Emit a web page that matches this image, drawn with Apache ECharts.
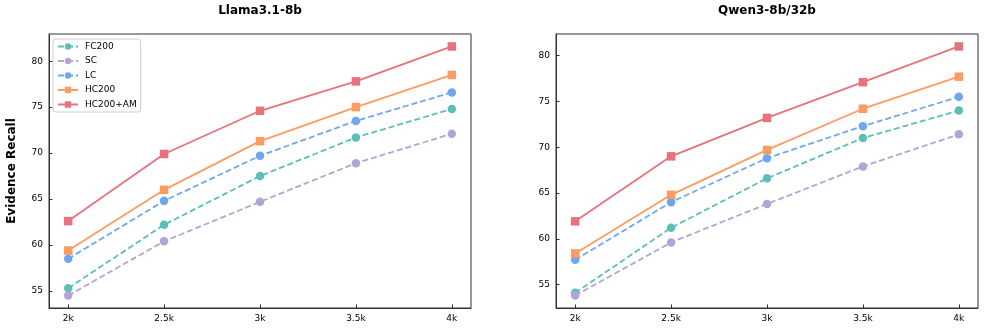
<!DOCTYPE html>
<html>
<head>
<meta charset="utf-8">
<script src="https://cdn.jsdelivr.net/npm/echarts@6/dist/echarts.min.js"></script>
<style>html,body{margin:0;padding:0;background:#fff}#c{width:987px;height:329px}</style>
</head>
<body>
<div id="c"></div>
<script>
// ---- data ----
const xValues = [2, 2.5, 3, 3.5, 4];
const xLabels = ['2k', '2.5k', '3k', '3.5k', '4k'];
const yTicks = [55, 60, 65, 70, 75, 80];
const seriesNames = ['FC200', 'SC', 'LC', 'HC200', 'HC200+AM'];
const panelTitles = ['Llama3.1-8b', 'Qwen3-8b/32b'];

// Llama3.1-8b
const llamaFC200 = [55.3, 62.2, 67.5, 71.7, 74.8];
const llamaSC    = [54.5, 60.4, 64.7, 68.9, 72.1];
const llamaLC    = [58.5, 64.8, 69.7, 73.5, 76.6];
const llamaHC200 = [59.4, 66.0, 71.3, 75.0, 78.5];
const llamaHCAM  = [62.6, 69.9, 74.6, 77.8, 81.6];

// Qwen3-8b/32b
const qwenFC200 = [54.1, 61.2, 66.6, 71.0, 74.0];
const qwenSC    = [53.8, 59.6, 63.8, 67.9, 71.4];
const qwenLC    = [57.7, 64.0, 68.8, 72.3, 75.5];
const qwenHC200 = [58.4, 64.8, 69.7, 74.2, 77.7];
const qwenHCAM  = [61.9, 69.0, 73.2, 77.1, 81.0];

const panels = [
  [llamaFC200, llamaSC, llamaLC, llamaHC200, llamaHCAM],
  [qwenFC200, qwenSC, qwenLC, qwenHC200, qwenHCAM]
];

// ---- styles ----
const colors = ['#5cbfb5', '#b3a4d6', '#6fa7ee', '#fd9b64', '#e7727d'];
const dashed = [true, true, true, false, false];
const symbols = ['circle', 'circle', 'circle', 'rect', 'rect'];
const FONT = 'DejaVu Sans';

const grids = [
  {left: 49, right: 516, top: 34, bottom: 21},
  {left: 556, right: 9, top: 34, bottom: 21}
];

function yRange(arrs) {
  let mn = Infinity, mx = -Infinity;
  arrs.forEach(a => a.forEach(v => { mn = Math.min(mn, v); mx = Math.max(mx, v); }));
  const pad = (mx - mn) * 0.05;
  return [mn - pad, mx + pad];
}

const xAxes = [], yAxes = [], series = [], titles = [];
panels.forEach((arrs, p) => {
  const [ymin, ymax] = yRange(arrs);
  xAxes.push({
    gridIndex: p, type: 'value', min: 1.9, max: 4.1,
    axisLine: {show: true, lineStyle: {color: '#333', width: 1}},
    axisTick: {show: true, inside: true, length: 3.5, customValues: xValues, lineStyle: {color: '#333'}},
    axisLabel: {customValues: xValues, color: '#000', fontFamily: FONT, fontSize: 9, margin: 6,
      formatter: v => xLabels[xValues.indexOf(+v)] || ''},
    splitLine: {show: false}
  });
  yAxes.push({
    gridIndex: p, type: 'value', min: ymin, max: ymax,
    name: p === 0 ? 'Evidence Recall' : '',
    nameLocation: 'middle', nameRotate: 90, nameGap: 31,
    nameTextStyle: {fontFamily: FONT, fontWeight: 'bold', fontSize: 12, color: '#000'},
    axisLine: {show: true, lineStyle: {color: '#333', width: 1}},
    axisTick: {show: true, inside: true, length: 3.5, customValues: yTicks, lineStyle: {color: '#333'}},
    axisLabel: {customValues: yTicks, color: '#000', fontFamily: FONT, fontSize: 9, margin: 6},
    splitLine: {show: false}
  });
  arrs.forEach((vals, i) => {
    series.push({
      name: seriesNames[i], type: 'line', xAxisIndex: p, yAxisIndex: p,
      data: xValues.map((x, k) => [x, vals[k]]),
      symbol: symbols[i], symbolSize: 8.5,
      color: colors[i],
      lineStyle: {width: 1.8, color: colors[i], type: dashed[i] ? [6, 3] : 'solid'},
      itemStyle: {color: colors[i]},
      emphasis: {disabled: true},
      animation: false
    });
  });
  const g = grids[p];
  const cx = (g.left + (987 - g.right)) / 2;
  titles.push({
    text: panelTitles[p], left: cx, top: 5, textAlign: 'center', padding: 0,
    textStyle: {fontFamily: FONT, fontWeight: 'bold', fontSize: 12, color: '#000'}
  });
});

const chart = echarts.init(document.getElementById('c'), null, {renderer: 'canvas'});
chart.setOption({
  animation: false,
  backgroundColor: '#fff',
  title: titles,
  grid: grids.map(g => Object.assign({show: true, borderColor: '#333', borderWidth: 1, backgroundColor: 'transparent'}, g)),
  xAxis: xAxes,
  yAxis: yAxes,
  legend: {
    data: seriesNames, orient: 'vertical', left: 53, top: 39,
    padding: [3, 4, 3, 4], itemGap: 5.5, itemWidth: 20, itemHeight: 8,
    backgroundColor: 'rgba(255,255,255,0.85)', borderColor: '#ccc', borderWidth: 1, borderRadius: 3,
    textStyle: {fontFamily: FONT, fontSize: 9, color: '#000', padding: [0, 0, 0, 2]}
  },
  series: series
});
</script>
</body>
</html>
